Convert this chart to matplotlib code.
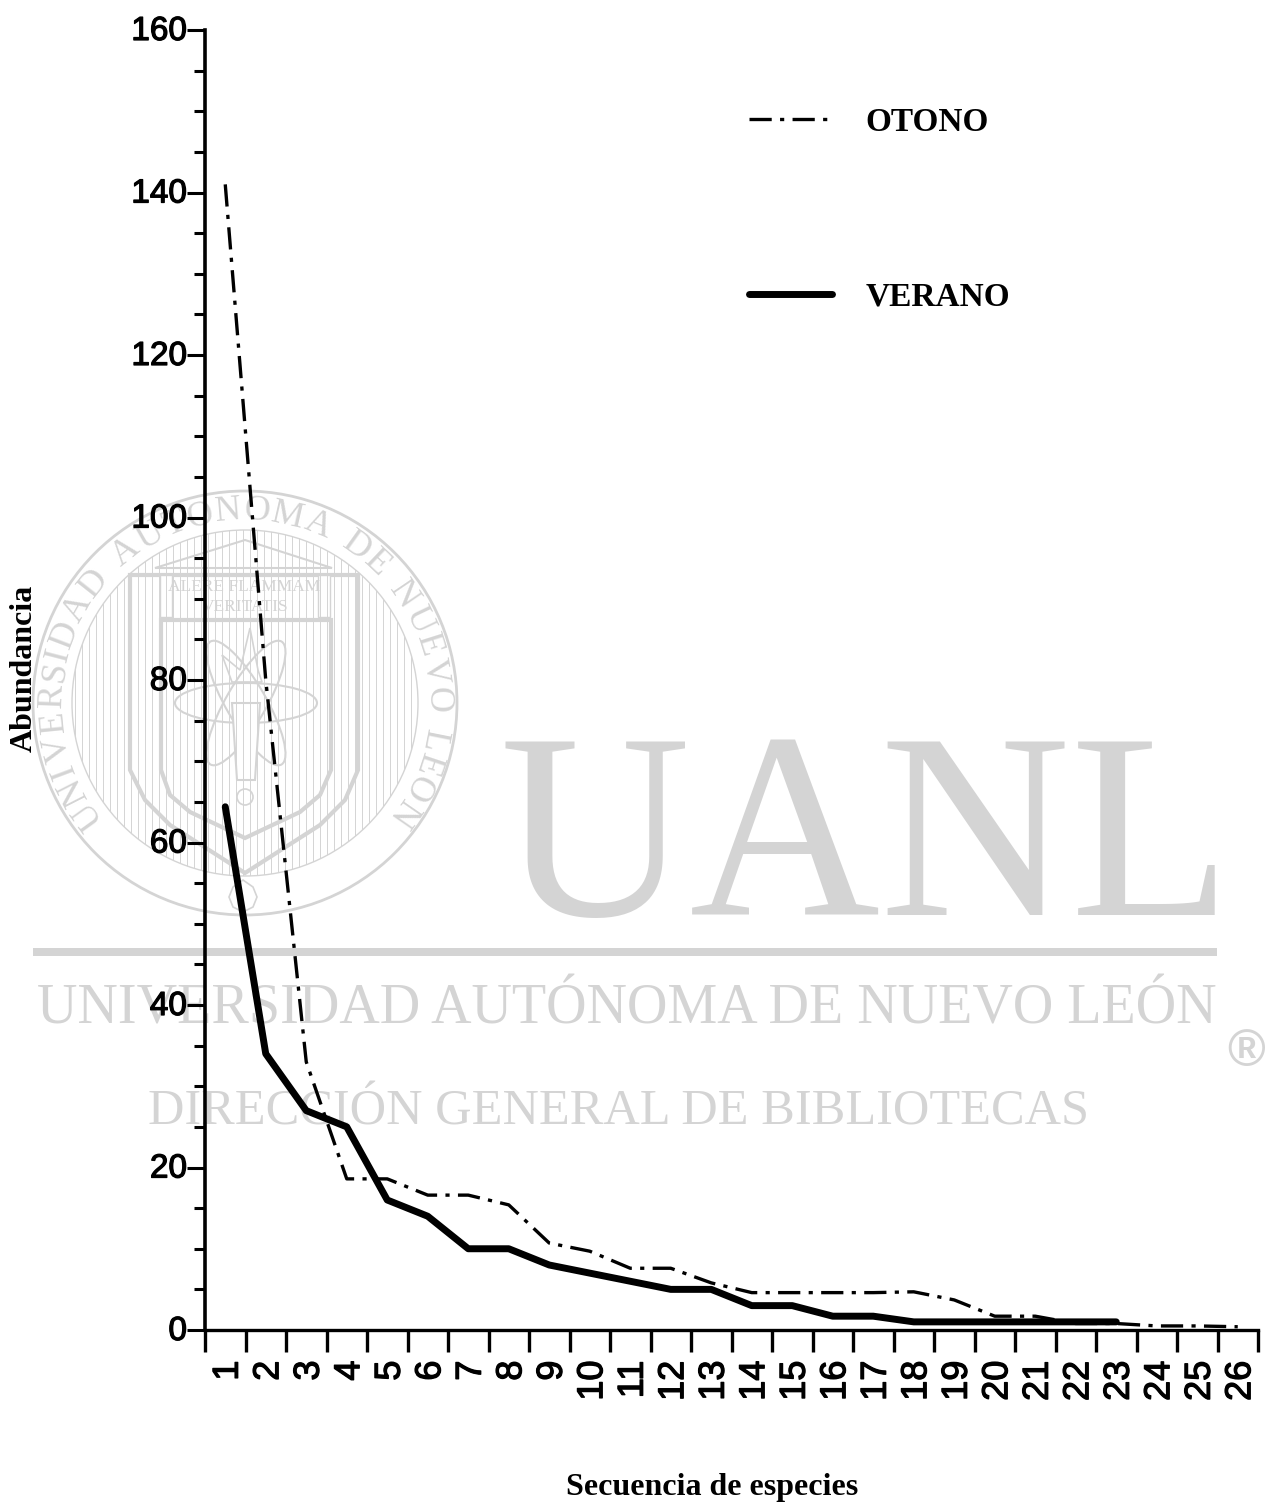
import numpy as np
import matplotlib
matplotlib.use("Agg")
import matplotlib.pyplot as plt
import matplotlib.patheffects as pe
from matplotlib.patches import Circle, Ellipse, Polygon, Rectangle
from matplotlib.font_manager import FontProperties
from matplotlib.textpath import TextPath
from matplotlib.transforms import ScaledTranslation

plt.rcParams["lines.scale_dashes"] = False

especies = list(range(1, 27))
otono = [141, 80, 33, 18.6, 18.6, 16.6, 16.6, 15.4, 10.7, 9.7, 7.6, 7.6, 5.8,
         4.6, 4.6, 4.6, 4.6, 4.7, 3.7, 1.7, 1.7, 0.8, 0.8, 0.5, 0.5, 0.4]
verano = [64.4, 34, 27, 25, 16, 14, 10, 10, 8, 7, 6, 5, 5,
          3, 3, 1.7, 1.7, 1, 1, 1, 1, 1, 1]
y_major = list(range(0, 161, 20))
y_minor = list(range(0, 161, 5))

W, H = 1268, 1508
GRIS = "#d4d4d4"
fig = plt.figure(figsize=(W / 100, H / 100), dpi=100, facecolor="white")

# marca de agua, en coordenadas de pixel
bg = fig.add_axes([0, 0, 1, 1], zorder=0)
bg.set_xlim(0, W)
bg.set_ylim(H, 0)
bg.axis("off")

serif = "Liberation Serif"
bg.text(866, 851, "UANL", family=serif, fontsize=190, color=GRIS, ha="center", va="center")
bg.add_patch(Rectangle((33, 948), 1184, 8, color=GRIS, lw=0))
bg.text(627, 1009, "UNIVERSIDAD AUTÓNOMA DE NUEVO LEÓN", family=serif, fontsize=40.4,
        color=GRIS, ha="center", va="center")
bg.text(619, 1112, "DIRECCIÓN GENERAL DE BIBLIOTECAS", family=serif, fontsize=36.3,
        color=GRIS, ha="center", va="center")
bg.text(1246, 1052, "®", family="Liberation Sans", weight="bold", fontsize=37, color=GRIS,
        ha="center", va="center")

cx, cy = 245, 703
bg.add_patch(Circle((cx, cy), 212, fill=False, ec=GRIS, lw=2))
clip = Circle((cx, cy), 173, fill=False, ec=GRIS, lw=1)
bg.add_patch(clip)
for xh in np.arange(cx - 170, cx + 171, 7):
    ln, = bg.plot([xh, xh], [cy - 175, cy + 175], color=GRIS, lw=0.7)
    ln.set_clip_path(clip)

escudo = [(130, 575), (358, 575), (358, 770), (345, 800), (320, 825), (245, 873),
          (170, 825), (145, 800), (130, 770)]
bg.add_patch(Polygon(escudo, closed=True, fc="white", ec=GRIS, lw=3))
interior = [(161, 620), (331, 620), (331, 770), (320, 795), (300, 812), (245, 838),
            (190, 812), (170, 795), (161, 770)]
bg.add_patch(Polygon(interior, closed=True, fc="white", ec=GRIS, lw=3))
bg.add_patch(Polygon([(155, 568), (332, 568), (245, 540)], closed=True, fc="white", ec=GRIS, lw=1.5))
bg.add_patch(Rectangle((160, 575), 12, 42, fc="white", ec=GRIS, lw=1))
bg.add_patch(Rectangle((318, 575), 12, 42, fc="white", ec=GRIS, lw=1))
bg.text(244, 587, "ALERE FLAMMAM", family=serif, fontsize=12.5, color=GRIS, ha="center", va="center")
bg.text(245, 607, "VERITATIS", family=serif, fontsize=12.5, color=GRIS, ha="center", va="center")
for ang in (0, 60, -60):
    bg.add_patch(Ellipse((246, 703), 142, 40, angle=ang, fill=False, ec=GRIS, lw=1.5))
bg.add_patch(Polygon([(232, 703), (260, 703), (255, 780), (237, 780)], closed=True, fc="white", ec=GRIS, lw=1.5))
bg.add_patch(Circle((245, 797), 8, fill=False, ec=GRIS, lw=1.2))
bg.add_patch(Polygon([(232, 682), (222, 655), (240, 670), (250, 628), (258, 670), (262, 682)],
                     closed=True, fill=False, ec=GRIS, lw=1.2))
bg.add_patch(Polygon([(243, 880), (253, 887), (257, 897), (253, 907), (243, 912), (233, 907),
                      (229, 897), (233, 887)], closed=True, fill=False, ec=GRIS, lw=1.2))

# texto circular del sello
rotulo = "UNIVERSIDAD AUTONOMA DE NUEVO LEON"
fp = FontProperties(family=serif)
anchos = [TextPath((0, 0), c, size=30, prop=fp).get_extents().width + 5 if c != " " else 13 for c in rotulo]
total = sum(anchos)
a0, a1 = 220, -39
acum = 0
for c, w in zip(rotulo, anchos):
    ang = a0 + (a1 - a0) * (acum + w / 2) / total
    acum += w
    t = np.radians(ang)
    bg.text(cx + 192 * np.cos(t), cy - 192 * np.sin(t), c, family=serif, fontsize=26, color=GRIS,
            rotation=ang - 90, ha="center", va="center", rotation_mode="anchor")

# grafica
ax = fig.add_axes([205 / W, (H - 1330) / H, 1053 / W, 1300 / H], zorder=1)
ax.patch.set_alpha(0)
ax.plot(especies, otono, color="black", lw=2.4, ls=(0, (16, 6, 3, 6)), clip_on=False, label="OTONO",
        dash_capstyle="butt")
ax.plot(especies[:len(verano)], verano, color="black", lw=5, clip_on=False, label="VERANO",
        solid_joinstyle="round", solid_capstyle="round")

ax.set_xlim(0.5, 26.5)
ax.set_ylim(0, 160)
ax.spines["top"].set_visible(False)
ax.spines["right"].set_visible(False)
ax.spines["left"].set_linewidth(2.6)
ax.spines["bottom"].set_linewidth(2.4)

grueso = [pe.withStroke(linewidth=0.9, foreground="black")]
ax.set_yticks(y_major)
ax.set_yticks(y_minor, minor=True)
ax.tick_params(axis="y", which="major", length=13, width=2.2, pad=0)
ax.tick_params(axis="y", which="minor", length=8, width=2.2)
sube = ScaledTranslation(0, 2 / 100, fig.dpi_scale_trans)
for lab in ax.get_yticklabels():
    lab.set_family("Liberation Sans")
    lab.set_fontsize(24)
    lab.set_path_effects(grueso)
    lab.set_transform(lab.get_transform() + sube)

# ticks en los limites, etiquetas al centro de cada especie
ax.set_xticks(np.arange(0.5, 27))
ax.set_xticklabels([])
ax.set_xticks(especies, minor=True)
ax.set_xticklabels([str(e) for e in especies], minor=True, rotation=90, va="top", ha="center")
ax.tick_params(axis="x", which="major", length=16, width=2.4)
ax.tick_params(axis="x", which="minor", length=0, pad=22)
desplaza = ScaledTranslation(3 / 100, 0, fig.dpi_scale_trans)
for lab in ax.get_xticklabels(minor=True):
    lab.set_family("Liberation Sans")
    lab.set_fontsize(26)
    lab.set_path_effects(grueso)
    lab.set_transform(lab.get_transform() + desplaza)

fig.text(24 / W, 1 - 668 / H, "Abundancia", family=serif, weight="bold", fontsize=23,
         rotation=90, ha="center", va="center")
fig.text(712 / W, 1 - 1488 / H, "Secuencia de especies", family=serif, weight="bold", fontsize=23,
         ha="center", va="center")

leg = ax.legend(loc="upper left", bbox_to_anchor=(749 / W, 1 - 107 / H), bbox_transform=fig.transFigure,
                frameon=False, prop={"family": serif, "weight": "bold", "size": 24},
                handlelength=2.5, handletextpad=1.0, labelspacing=4.3, borderpad=0, borderaxespad=0)

fig.savefig("out.png", dpi=100)
